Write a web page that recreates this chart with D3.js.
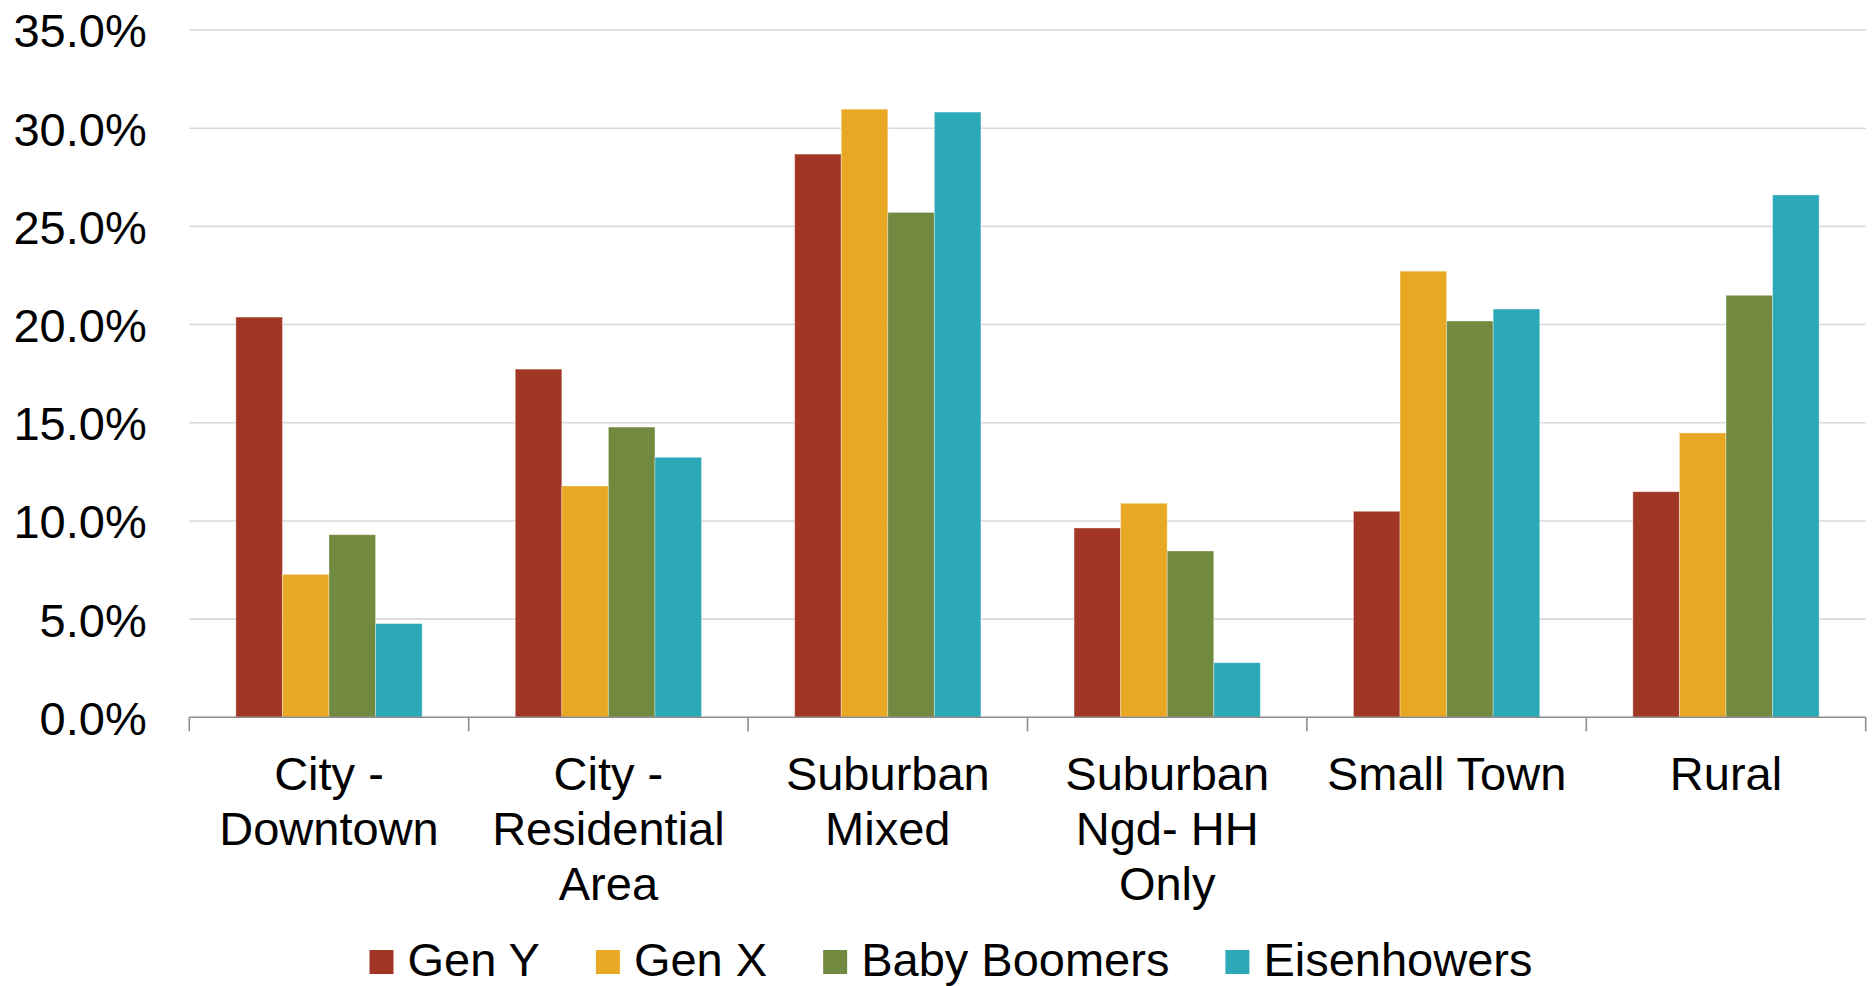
<!DOCTYPE html>
<html>
<head>
<meta charset="utf-8">
<script src="https://cdn.jsdelivr.net/npm/d3@7"></script>
<style>
  html, body { margin: 0; padding: 0; background: #ffffff; }
  svg { display: block; font-family: "Liberation Sans", Arial, sans-serif; }
</style>
</head>
<body>
<svg id="chart" width="1875" height="986"></svg>
<script>
// Share of each generation by preferred neighbourhood type
const categories = [
  ["City -", "Downtown"],
  ["City -", "Residential", "Area"],
  ["Suburban", "Mixed"],
  ["Suburban", "Ngd- HH", "Only"],
  ["Small Town"],
  ["Rural"]
];
const seriesNames = ["Gen Y", "Gen X", "Baby Boomers", "Eisenhowers"];
const seriesColors = ["#A13624", "#E9A824", "#718A3F", "#2BA9B8"];

const genY        = [0.2038, 0.1773, 0.2868, 0.0964, 0.1049, 0.1149];
const genX        = [0.0728, 0.1178, 0.3097, 0.1090, 0.2272, 0.1448];
const babyBoomers = [0.0930, 0.1478, 0.2571, 0.0847, 0.2018, 0.2149];
const eisenhowers = [0.0477, 0.1324, 0.3082, 0.0278, 0.2079, 0.2660];
const seriesValues = [genY, genX, babyBoomers, eisenhowers];

const yTicks = [0, 0.05, 0.10, 0.15, 0.20, 0.25, 0.30, 0.35];

const svg = d3.select("#chart");
const plotLeft = 189.3, plotRight = 1865.7, plotTop = 30, plotBottom = 717.3;
const fontSize = 47;

const x0 = d3.scaleBand().domain(d3.range(categories.length)).range([plotLeft, plotRight]).padding(0);
const bw = x0.bandwidth();
const x1 = d3.scaleBand().domain(d3.range(seriesNames.length)).range([bw / 6, bw * 5 / 6]).padding(0);
const y = d3.scaleLinear().domain([0, 0.35]).range([plotBottom, plotTop]);

// horizontal gridlines
svg.append("g")
  .selectAll("line")
  .data(yTicks.slice(1))
  .join("line")
  .attr("x1", plotLeft).attr("x2", plotRight)
  .attr("y1", d => y(d)).attr("y2", d => y(d))
  .attr("stroke", "#d9d9d9").attr("stroke-width", 1.6);

// y-axis labels
const yAxis = d3.axisLeft(y).tickValues(yTicks).tickFormat(d3.format(".1%")).tickSize(0).tickPadding(0);
const gy = svg.append("g").attr("transform", `translate(${146.7},0)`).call(yAxis);
gy.select(".domain").remove();
gy.selectAll("text")
  .attr("font-family", "'Liberation Sans', Arial, sans-serif")
  .attr("font-size", fontSize)
  .attr("fill", "#000")
  .attr("x", 0)
  .attr("dy", "0.36em");

// bars
const groups = svg.append("g")
  .selectAll("g")
  .data(categories.map((c, i) => i))
  .join("g")
  .attr("transform", i => `translate(${x0(i)},0)`);

groups.selectAll("rect")
  .data(i => seriesValues.map((vals, s) => ({ s, v: vals[i] })))
  .join("rect")
  .attr("x", d => x1(d.s))
  .attr("width", x1.bandwidth())
  .attr("y", d => y(d.v))
  .attr("height", d => y(0) - y(d.v))
  .attr("fill", d => seriesColors[d.s])
  .attr("stroke", "#ffffff")
  .attr("stroke-opacity", 0.35)
  .attr("stroke-width", 1);

// x axis with tick marks at category boundaries
const axisG = svg.append("g");
axisG.append("line")
  .attr("x1", plotLeft).attr("x2", plotRight)
  .attr("y1", plotBottom).attr("y2", plotBottom)
  .attr("stroke", "#8c8c8c").attr("stroke-width", 1.6);
axisG.selectAll("line.tick")
  .data(d3.range(categories.length + 1))
  .join("line")
  .attr("class", "tick")
  .attr("x1", i => i < categories.length ? x0(i) : plotRight)
  .attr("x2", i => i < categories.length ? x0(i) : plotRight)
  .attr("y1", plotBottom).attr("y2", plotBottom + 14)
  .attr("stroke", "#8c8c8c").attr("stroke-width", 1.6);

// category labels
const catLabels = svg.append("g")
  .selectAll("text")
  .data(categories.map((lines, i) => ({ lines, i })))
  .join("text")
  .attr("text-anchor", "middle")
  .attr("font-size", fontSize)
  .attr("fill", "#000")
  .attr("transform", d => `translate(${x0(d.i) + bw / 2},${790})`);
catLabels.selectAll("tspan")
  .data(d => d.lines)
  .join("tspan")
  .attr("x", 0)
  .attr("y", (d, k) => k * 55)
  .text(d => d);

// legend
const legend = svg.append("g");
const items = legend.selectAll("g")
  .data(seriesNames.map((n, s) => ({ n, s })))
  .join("g");
items.append("rect")
  .attr("width", 24).attr("height", 24)
  .attr("y", -26)
  .attr("fill", d => seriesColors[d.s]);
items.append("text")
  .attr("x", 38)
  .attr("font-size", fontSize)
  .attr("fill", "#000")
  .text(d => d.n);

let cursor = 0;
const positions = [];
items.each(function (d) {
  const w = 38 + d3.select(this).select("text").node().getComputedTextLength();
  positions.push(cursor);
  cursor += w + 56;
});
const totalW = cursor - 56;
const legendStart = 951 - totalW / 2;
items.attr("transform", (d, k) => `translate(${legendStart + positions[k]},${976})`);
</script>
</body>
</html>
